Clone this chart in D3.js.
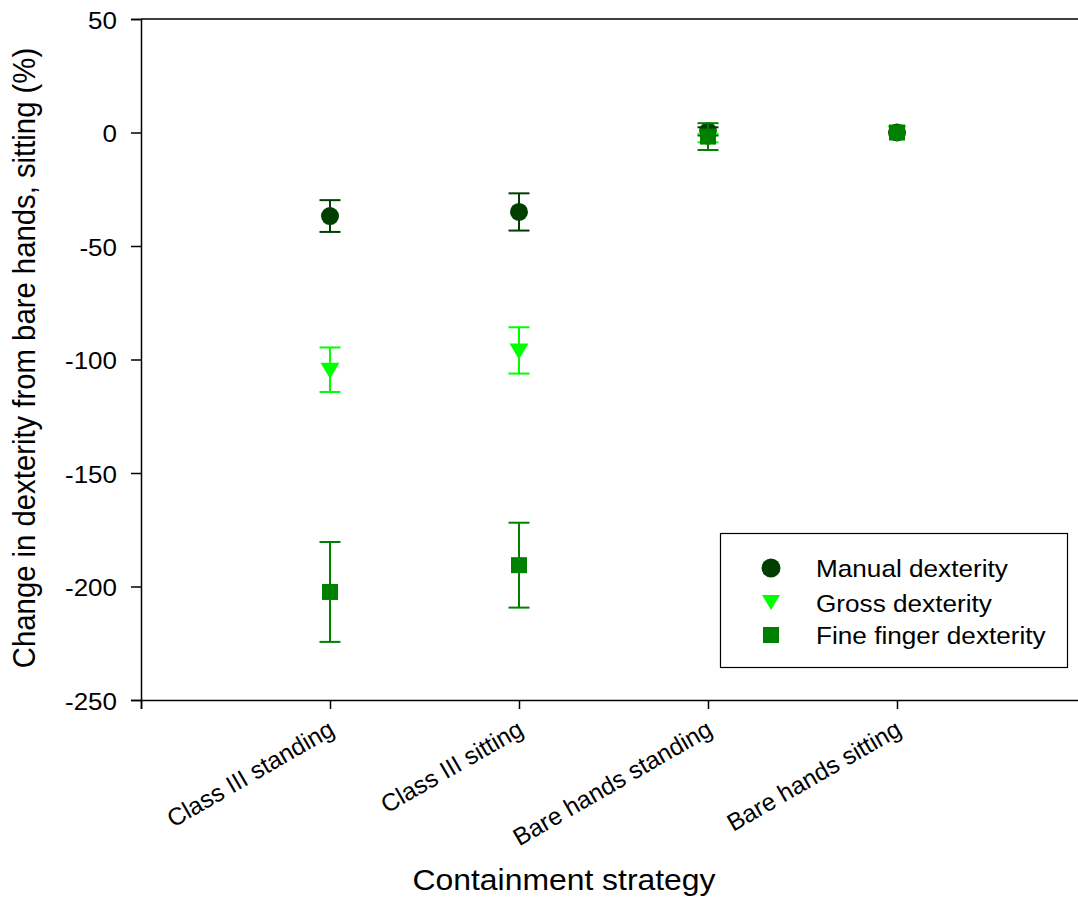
<!DOCTYPE html>
<html>
<head>
<meta charset="utf-8">
<script src="https://cdn.jsdelivr.net/npm/d3@7"></script>
<style>
  html, body { margin: 0; padding: 0; background: #fff; }
  svg { display: block; font-family: "Liberation Sans", Arial, sans-serif; }
</style>
</head>
<body>
<svg id="chart" width="1078" height="902"></svg>
<script>
// ---- data ----
const categories = ["Class III standing", "Class III sitting", "Bare hands standing", "Bare hands sitting"];
const manualValues = [-36.8, -35.0, 0.5, 0];
const manualErrors = [7.0, 8.2, 1.8, 0];
const grossValues  = [-104.5, -96.0, -2.5, 0];
const grossErrors  = [9.8, 10.2, 1.8, 0];
const fineValues   = [-202.4, -190.6, -1.8, 0];
const fineErrors   = [22.0, 18.7, 5.9, 0];
const yTicks = [-250, -200, -150, -100, -50, 0, 50];
const seriesNames = ["Manual dexterity", "Gross dexterity", "Fine finger dexterity"];

// ---- layout ----
const svg = d3.select("#chart");
const x = d3.scaleLinear().domain([0, 5]).range([141, 1086]);
const y = d3.scaleLinear().domain([-250, 50]).range([700, 19]);

const series = [
  { name: seriesNames[0], vals: manualValues, errs: manualErrors, color: "#003f00", shape: "circle" },
  { name: seriesNames[1], vals: grossValues,  errs: grossErrors,  color: "#00ff00", shape: "triangle" },
  { name: seriesNames[2], vals: fineValues,   errs: fineErrors,   color: "#008000", shape: "square" }
];

function symbolPath(shape, legend) {
  if (shape === "circle") return d3.symbol().type(d3.symbolCircle).size(Math.PI * (legend ? 9.5 : 9) ** 2)();
  if (shape === "square") return "M-8,-8H8V8H-8Z";
  return legend ? "M-9,-7.5H9L0,7.5Z" : "M-9.5,-7H9.5L0,9Z";
}

// frame top line
svg.append("line").attr("x1", x(0)).attr("x2", x(5)).attr("y1", y(50)).attr("y2", y(50))
  .attr("stroke", "#000").attr("stroke-width", 1.5);

// y axis
const yAxis = svg.append("g").attr("transform", `translate(${x(0)},0)`)
  .call(d3.axisLeft(y).tickValues(yTicks).tickSize(10).tickFormat(""));
yAxis.select(".domain").attr("stroke", "#000").attr("stroke-width", 1.5);
yAxis.selectAll(".tick line").attr("stroke", "#000").attr("stroke-width", 1.5);
svg.append("g").selectAll("text").data(yTicks).join("text")
  .attr("transform", d => `translate(117,${y(d) + 9.5}) scale(1.13,1)`)
  .attr("text-anchor", "end").attr("font-size", 23).attr("fill", "#000")
  .text(d => d);

// x axis
const xAxis = svg.append("g").attr("transform", `translate(0,${y(-250)})`)
  .call(d3.axisBottom(x).tickValues([0, 1, 2, 3, 4, 5]).tickSize(9).tickFormat(""));
xAxis.select(".domain").attr("stroke", "#000").attr("stroke-width", 1.5);
xAxis.selectAll(".tick line").attr("stroke", "#000").attr("stroke-width", 1.5);
svg.append("g").selectAll("text").data(categories).join("text")
  .attr("transform", (d, i) => `translate(${x(i + 1) + 6},734) rotate(-30)`)
  .attr("text-anchor", "end").attr("font-size", 24.5).attr("fill", "#000")
  .text(d => d);

// axis titles
svg.append("text").attr("transform", `translate(564,890) scale(1.1,1)`)
  .attr("text-anchor", "middle").attr("font-size", 29).attr("fill", "#000")
  .text("Containment strategy");
svg.append("text").attr("transform", `translate(35,358) scale(1.05,1) rotate(-90)`)
  .attr("text-anchor", "middle").attr("font-size", 29.3).attr("fill", "#000")
  .text("Change in dexterity from bare hands, sitting (%)");

// data
series.forEach(s => {
  const g = svg.append("g");
  const pts = categories.map((c, i) => ({ i, v: s.vals[i], e: s.errs[i] }));
  const eb = g.selectAll("g.eb").data(pts.filter(p => p.e > 0)).join("g").attr("class", "eb")
    .attr("stroke", s.color).attr("stroke-width", 2);
  eb.append("line").attr("x1", p => x(p.i + 1)).attr("x2", p => x(p.i + 1))
    .attr("y1", p => y(p.v + p.e)).attr("y2", p => y(p.v - p.e));
  eb.append("line").attr("x1", p => x(p.i + 1) - 10.5).attr("x2", p => x(p.i + 1) + 10.5)
    .attr("y1", p => y(p.v + p.e)).attr("y2", p => y(p.v + p.e));
  eb.append("line").attr("x1", p => x(p.i + 1) - 10.5).attr("x2", p => x(p.i + 1) + 10.5)
    .attr("y1", p => y(p.v - p.e)).attr("y2", p => y(p.v - p.e));
  g.selectAll("path.m").data(pts).join("path").attr("class", "m")
    .attr("d", symbolPath(s.shape, false))
    .attr("transform", p => `translate(${x(p.i + 1)},${y(p.v)})`)
    .attr("fill", s.color);
});

// legend
const lg = svg.append("g");
lg.append("rect").attr("x", 720.5).attr("y", 533.5).attr("width", 347).attr("height", 134)
  .attr("fill", "#fff").attr("stroke", "#000").attr("stroke-width", 1.2);
const rowsY = [568, 602.5, 635];
const baseY = [577, 611.5, 643.5];
series.forEach((s, i) => {
  lg.append("path").attr("d", symbolPath(s.shape, true))
    .attr("transform", `translate(771,${rowsY[i]})`).attr("fill", s.color);
  lg.append("text").attr("transform", `translate(816,${baseY[i]}) scale(1.09,1)`)
    .attr("font-size", 24).attr("fill", "#000").text(s.name);
});
</script>
</body>
</html>
